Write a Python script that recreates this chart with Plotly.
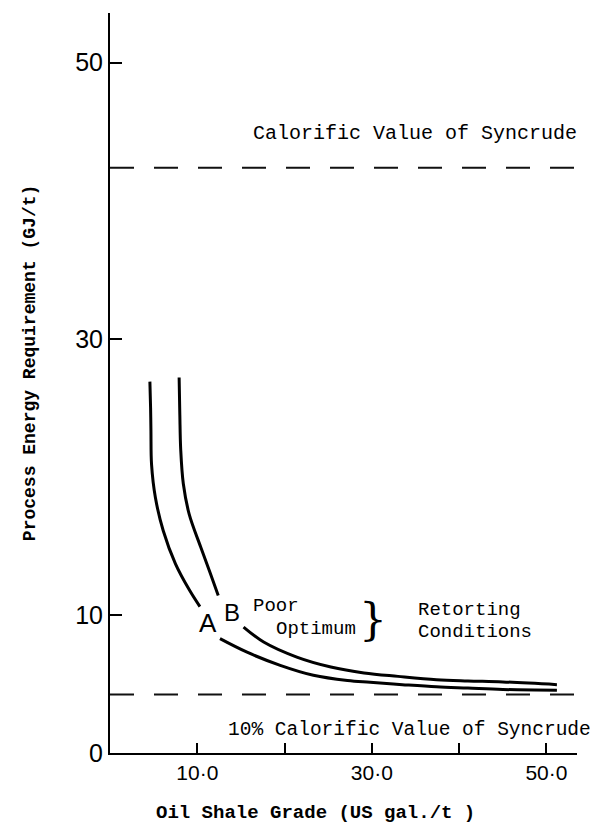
import plotly.graph_objects as go

# ---- data ----
grade_A = [4.57, 4.65, 4.69, 4.76, 5.2, 6.1, 7.5, 9.1, 10.3, None,
           12.6, 15.7, 19.5, 23.3, 27.2, 29.8, 33.5, 37.4, 41.0, 45.0, 51.2]
energy_A = [26.9, 25.0, 23.3, 20.9, 18.5, 16.1, 13.7, 11.8, 10.6, None,
            8.28, 7.3, 6.35, 5.63, 5.25, 5.12, 4.95, 4.79, 4.7, 4.6, 4.55]

grade_B = [7.92, 8.0, 8.1, 8.4, 9.07, 10.4, 11.5, 12.4, None,
           15.3, 17.6, 21.4, 25.3, 29.1, 33.0, 37.4, 41.0, 45.0, 51.2]
energy_B = [27.2, 24.5, 22.0, 19.5, 17.3, 14.9, 13.0, 11.4, None,
            9.12, 8.04, 6.95, 6.23, 5.8, 5.55, 5.31, 5.22, 5.15, 4.95]

calorific_value = 42.4
ten_pct_value = 4.24
ref_x = [0, 54.5]

x_tickvals = [10, 20, 30, 40, 50]
x_ticktext = ["10·0", "", "30·0", "", "50·0"]
y_tickvals = [0, 10, 30, 50]
y_ticktext = ["0", "10", "30", "50"]

MONO = "Liberation Mono, Courier New, monospace"
SANS = "Liberation Sans, Arial, sans-serif"

fig = go.Figure()

for xs, ys in [(grade_A, energy_A), (grade_B, energy_B)]:
    fig.add_trace(go.Scatter(x=xs, y=ys, mode="lines",
                             line=dict(color="black", width=3, shape="spline", smoothing=1.0),
                             connectgaps=False, showlegend=False, hoverinfo="skip"))

for v in [calorific_value, ten_pct_value]:
    fig.add_trace(go.Scatter(x=ref_x, y=[v, v], mode="lines",
                             line=dict(color="#111", width=2, dash="24px,20px"),
                             showlegend=False, hoverinfo="skip"))

ann = []
def txt(x, y, t, size=20, font=MONO, xanchor="left", **kw):
    ann.append(dict(x=x, y=y, xref="x", yref="y", text=t, showarrow=False,
                    xanchor=xanchor, yanchor="middle",
                    font=dict(family=font, size=size, color="black"), **kw))

txt(11.2, 9.4, "A", size=26, font=SANS, xanchor="center")
txt(14.0, 10.2, "B", size=24, font=SANS, xanchor="center")
txt(16.1, 10.65, "Poor", size=19)
txt(18.8, 9.0, "Optimum", size=19)
txt(30.1, 9.64, "}", size=44, font="DejaVu Serif, serif", xanchor="center")
txt(35.0, 10.36, "Retorting", size=19)
txt(35.0, 8.77, "Conditions", size=19)
txt(16.2, 44.9, "Calorific Value of Syncrude", size=20)
txt(13.3, 1.67, "10% Calorific Value of Syncrude", size=19.5)

ann.append(dict(x=-0.171, y=0.527, xref="paper", yref="paper",
                text="<b>Process Energy Requirement (GJ/t)</b>", textangle=-90,
                showarrow=False, xanchor="center", yanchor="middle",
                font=dict(family=MONO, size=18, color="black")))
ann.append(dict(x=0.441, y=-0.081, xref="paper", yref="paper",
                text="<b>Oil Shale Grade (US gal./t )</b>",
                showarrow=False, xanchor="center", yanchor="middle",
                font=dict(family=MONO, size=19, color="black")))

# page body has an 8px margin, so the figure is sized/placed to compensate
fig.update_layout(
    width=590, height=820,
    margin=dict(l=102, r=21, t=5, b=75),
    paper_bgcolor="white", plot_bgcolor="white",
    annotations=ann,
    xaxis=dict(range=[0, 53.5], showgrid=False, zeroline=False,
               showline=True, linecolor="black", linewidth=2,
               ticks="inside", ticklen=10, tickwidth=2, tickcolor="black",
               tickvals=x_tickvals, ticktext=x_ticktext,
               tickfont=dict(family=SANS, size=21, color="black")),
    yaxis=dict(range=[0, 53.6], showgrid=False, zeroline=False,
               showline=True, linecolor="black", linewidth=2,
               ticks="inside", ticklen=12, tickwidth=2, tickcolor="black",
               tickvals=y_tickvals, ticktext=y_ticktext,
               tickfont=dict(family=SANS, size=25, color="black")),
)

fig.write_html("out.html")
